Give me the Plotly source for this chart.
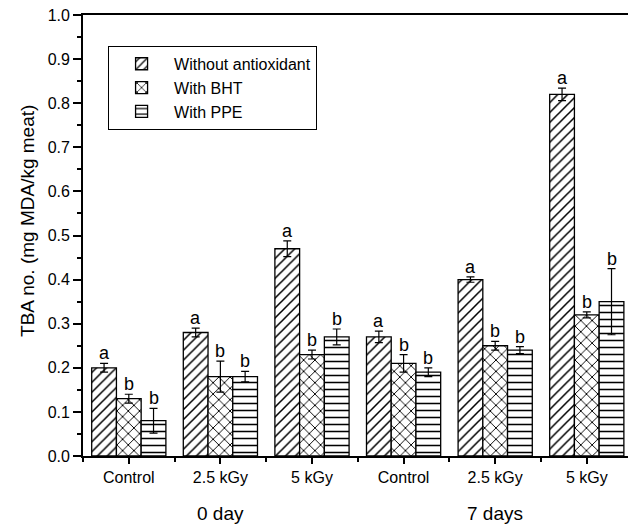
import plotly.graph_objects as go

categories = ["Control", "2.5 kGy", "5 kGy", "Control", "2.5 kGy", "5 kGy"]
group_labels = ["0 day", "7 days"]
series_names = ["Without antioxidant", "With BHT", "With PPE"]
without_vals = [0.20, 0.28, 0.47, 0.27, 0.40, 0.82]
without_err = [0.010, 0.010, 0.018, 0.013, 0.006, 0.014]
without_letters = ["a", "a", "a", "a", "a", "a"]
bht_vals = [0.13, 0.18, 0.23, 0.21, 0.25, 0.32]
bht_err = [0.010, 0.035, 0.010, 0.020, 0.010, 0.007]
bht_letters = ["b", "b", "b", "b", "b", "b"]
ppe_vals = [0.08, 0.18, 0.27, 0.19, 0.24, 0.35]
ppe_err = [0.028, 0.012, 0.018, 0.010, 0.008, 0.075]
ppe_letters = ["b", "b", "b", "b", "b", "b"]
y_ticks = [0.0, 0.1, 0.2, 0.3, 0.4, 0.5, 0.6, 0.7, 0.8, 0.9, 1.0]
y_title = "TBA no. (mg MDA/kg meat)"

FONT = "Liberation Sans, Arial, sans-serif"
x_idx = list(range(len(categories)))

series = [
    (series_names[0], without_vals, without_err, without_letters, "/", 7),
    (series_names[1], bht_vals, bht_err, bht_letters, "x", 8),
    (series_names[2], ppe_vals, ppe_err, ppe_letters, "-", 7),
]

fig = go.Figure()
for i, (name, vals, errs, letters, shape, size) in enumerate(series):
    fig.add_trace(go.Bar(
        x=x_idx, y=vals, name=name, offsetgroup=str(i),
        marker=dict(color="white", line=dict(color="black", width=1.3),
                    pattern=dict(shape=shape, fgcolor="black", bgcolor="white",
                                 size=size, solidity=0.22, fgopacity=1,
                                 fillmode="overlay")),
        error_y=dict(type="data", array=errs, visible=True, color="black",
                     thickness=1.2, width=4),
    ))

fig.update_layout(barmode="group", bargap=0.19, bargroupgap=0)

# letter annotations above error bars
n = len(series)
width_per_bar = (1 - 0.19) / n
for i, (name, vals, errs, letters, shape, size) in enumerate(series):
    off = (i - (n - 1) / 2) * width_per_bar
    for xi, v, e, l in zip(x_idx, vals, errs, letters):
        fig.add_annotation(x=xi + off, y=v + e, text=l, showarrow=False,
                           yanchor="bottom", yshift=-2,
                           font=dict(family=FONT, size=18, color="black"))

for k, g in enumerate(group_labels):
    fig.add_annotation(x=1 + 3 * k, y=0, yref="paper", yshift=-45, text=g,
                       showarrow=False, yanchor="top",
                       font=dict(family=FONT, size=19, color="black"))

fig.add_annotation(x=0, xref="paper", xshift=-55, y=0.533, yref="paper",
                   text=y_title, textangle=-90, showarrow=False,
                   xanchor="center", yanchor="middle",
                   font=dict(family=FONT, size=19, color="black"))

fig.update_layout(
    width=628, height=527,
    margin=dict(l=83, r=0, t=15, b=71),
    plot_bgcolor="white", paper_bgcolor="white",
    font=dict(family=FONT, size=15, color="black"),
    showlegend=True,
    legend=dict(x=0.046, y=0.93, xanchor="left", yanchor="top",
                bordercolor="black", borderwidth=1, bgcolor="white",
                font=dict(family=FONT, size=16, color="black"),
                tracegroupgap=0, itemwidth=55),
    xaxis=dict(range=[-0.5, 5.45], tickvals=x_idx, ticktext=categories,
               ticks="outside", ticklen=6, tickwidth=1.5, tickcolor="black",
               showline=True, linecolor="black", linewidth=2.2, mirror=True,
               showgrid=False, zeroline=False,
               tickfont=dict(family=FONT, size=16),
               minor=dict(tick0=0.5, dtick=1, ticks="outside", ticklen=4,
                          tickcolor="black", tickwidth=1.5, showgrid=False)),
    yaxis=dict(range=[0, 1.0], tickvals=y_ticks, tickformat=".1f",
               ticks="outside", ticklen=8, tickwidth=1.8, tickcolor="black",
               showline=True, linecolor="black", linewidth=1.8,
               showgrid=False, zeroline=False,
               tickfont=dict(family=FONT, size=16),
               minor=dict(dtick=0.05, ticks="outside", ticklen=4,
                          tickcolor="black", tickwidth=1.8, showgrid=False)),
)

fig.write_html("out.html")
